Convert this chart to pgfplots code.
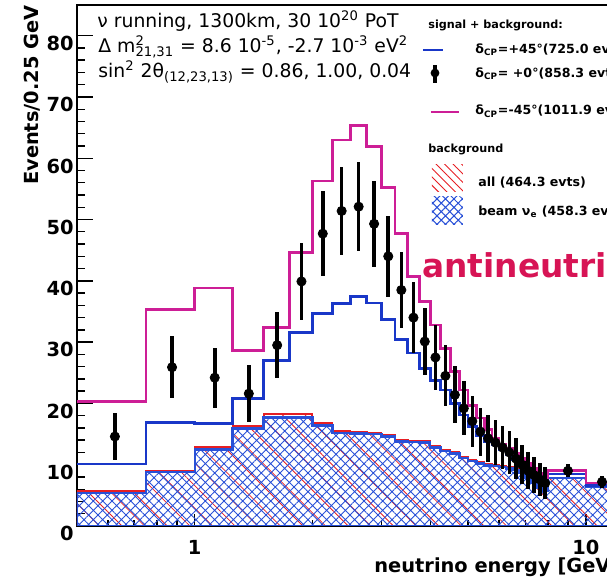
\documentclass[border=0pt]{standalone}
\usepackage{fontspec}
\setmainfont{DejaVu Sans}
\usepackage{pgfplots}
\usepackage{pgfplotstable}
\pgfplotsset{compat=1.18}
\usetikzlibrary{patterns.meta}

\definecolor{sigblue}{RGB}{25,55,200}
\definecolor{sigmag}{RGB}{205,30,150}
\definecolor{bkgred}{RGB}{230,30,35}
\definecolor{hatchblue}{RGB}{40,80,215}
\definecolor{antired}{RGB}{215,20,85}

% bin lower edges (last row = upper edge of last bin)
\pgfplotstableread{
e     plus45 minus45 bkg  beam
0.50  10.1   20.3    5.7  5.4
0.75  16.9   35.3    9.0  8.8
1.00  16.7   38.8    12.9 12.5
1.25  20.8   28.6    16.3 15.9
1.50  27.0   32.4    18.2 17.7
1.75  31.6   44.6    18.2 17.7
2.00  34.7   56.3    16.8 16.4
2.25  36.3   63.0    15.5 15.2
2.50  37.4   65.3    15.4 15.1
2.75  36.4   61.9    15.2 15.0
3.00  33.7   55.2    14.8 14.6
3.25  30.4   47.7    14.0 13.8
3.50  28.2   40.7    13.9 13.7
3.75  25.7   36.6    13.8 13.6
4.00  23.7   32.8    13.0 12.8
4.25  22.2   29.0    12.4 12.2
4.50  20.0   25.2    12.0 11.8
4.75  18.1   22.2    11.3 11.1
5.00  16.2   19.7    10.8 10.6
5.25  14.8   17.6    10.4 10.2
5.50  13.8   15.7    10.1 9.9
5.75  13.2   14.3    10.0 9.8
6.00  12.5   13.4    9.8  9.6
6.25  11.7   12.6    9.6  9.4
6.50  10.8   11.8    9.3  9.1
6.75  9.9    11.0    8.8  8.6
7.00  8.9    10.2    8.0  7.8
7.25  8.0    9.4     7.2  7.0
7.50  7.2    8.6     6.5  6.3
7.75  6.6    7.8     6.0  5.8
8.00  8.5    9.1     7.9  7.8
10.0  6.6    7.0     6.5  6.4
12.0  6.6    7.0     6.5  6.4
}\hist

\pgfplotstableread{
x     y     ey
0.625 14.6  3.82
0.875 25.9  5.09
1.125 24.2  4.92
1.375 21.6  4.65
1.625 29.5  5.43
1.875 39.9  6.32
2.125 47.7  6.91
2.375 51.4  7.17
2.625 52.1  7.22
2.875 49.3  7.02
3.125 44.0  6.63
3.375 38.5  6.20
3.625 34.0  5.83
3.875 30.1  5.49
4.125 27.5  5.24
4.375 24.5  4.95
4.625 21.4  4.63
4.875 19.2  4.38
5.125 17.1  4.14
5.375 15.4  3.92
5.625 14.3  3.78
5.875 13.6  3.69
6.125 12.8  3.58
6.375 12.0  3.46
6.625 11.0  3.32
6.875 10.0  3.16
7.125 9.0   3.00
7.375 8.3   2.88
7.625 7.6   2.76
7.875 7.0   2.65
9.0   9.0   1.06
11.0  7.2   0.95
}\evts

\newcommand\lab{\fontsize{9.7}{11.6}\selectfont\bfseries}
\newcommand\leg{\fontsize{6.3}{7.5}\selectfont\bfseries}
\newcommand\head{\fontsize{5.6}{6.7}\selectfont\bfseries}
\newcommand\info{\fontsize{9.4}{11.3}\selectfont}

\begin{document}
\begin{tikzpicture}
\useasboundingbox (-38.5pt,-29.5pt) rectangle (265pt,263pt);
\begin{scope}
\clip (-38.5pt,-29.5pt) rectangle (265pt,263pt);
\begin{axis}[
  scale only axis, width=283pt, height=260.5pt,
  xmode=log, xmin=0.5, xmax=14, ymin=0, ymax=85,
  axis line style={line width=1pt},
  tick pos=left, tick align=inside,
  xtick={1,10}, xticklabels={1,10},
  minor xtick={0.6,0.7,0.8,0.9,2,3,4,5,6,7,8,9,20},
  ytick={0,10,...,80}, minor y tick num=4,
  major tick length=8pt, minor tick length=4pt,
  xtick style={/pgfplots/major tick length=6pt,/pgfplots/minor tick length=3pt},
  tick style={black, line width=0.7pt},
  /pgf/number format/assume math mode=true,
  tick label style={font=\lab},
  yticklabel style={anchor=north east, inner sep=0pt, xshift=-1.5pt},
  xticklabel style={anchor=north, inner sep=0pt, yshift=-7pt},
]
\addplot[const plot, draw=bkgred, line width=1pt,
  pattern={Lines[angle=-45,distance=8pt,line width=0.4pt]}, pattern color=bkgred]
  table[x=e,y=bkg] {\hist} \closedcycle;
\addplot[const plot, draw=hatchblue, line width=1.2pt,
  pattern={Hatch[angle=45,distance=3.3pt,line width=0.45pt]}, pattern color=hatchblue]
  table[x=e,y=beam] {\hist} \closedcycle;
\addplot[const plot, draw=sigblue, line width=1.3pt] table[x=e,y=plus45] {\hist};
\addplot[const plot, draw=sigmag, line width=1.3pt] table[x=e,y=minus45] {\hist};
\addplot[only marks, mark=*, mark size=2.3pt, black,
  error bars/.cd, y dir=both, y explicit, error mark=none,
  error bar style={line width=1.8pt, black}]
  table[x=x,y=y,y error=ey] {\evts};
\end{axis}

% labels
\node[anchor=base west, inner sep=0pt, font=\lab] at (148.5pt,-23.5pt) {neutrino energy [GeV]};
\node[rotate=90, anchor=south east, inner sep=0pt, font=\lab] at (-18pt,260.5pt) {Events/0.25 GeV};

% info text
\node[anchor=base west, inner sep=0pt, font=\info] at (10pt,249pt)
  {ν running, 1300km, 30 10\textsuperscript{20} PoT};
\node[anchor=base west, inner sep=0pt, font=\info] at (10.5pt,236.5pt)
  {Δ m\rlap{\textsuperscript{2}}\textsubscript{21,31} = 8.6 10\textsuperscript{-5}, -2.7 10\textsuperscript{-3} eV\textsuperscript{2}};
\node[anchor=base west, inner sep=0pt, font=\info] at (10.5pt,224pt)
  {sin\textsuperscript{2} 2θ\textsubscript{(12,23,13)} = 0.86, 1.00, 0.04};

% legend
\node[anchor=base west, inner sep=0pt, font=\head] at (175.5pt,248.8pt) {signal + background:};
\draw[sigblue, line width=1.2pt] (173pt,238pt) -- (183pt,238pt);
\node[anchor=base west, inner sep=0pt, font=\leg] at (199pt,236.3pt) {δ\textsubscript{CP}=+45°(725.0 evts)};
\draw[black, line width=1.8pt] (179pt,221.5pt) -- (179pt,230.5pt);
\fill[black] (179pt,226.5pt) circle (2.2pt);
\node[anchor=base west, inner sep=0pt, font=\leg] at (199pt,224.3pt) {δ\textsubscript{CP}= +0°(858.3 evts)};
\draw[sigmag, line width=1.2pt] (177pt,207pt) -- (191pt,207pt);
\node[anchor=base west, inner sep=0pt, font=\leg] at (199pt,205.5pt) {δ\textsubscript{CP}=-45°(1011.9 evts)};
\node[anchor=base west, inner sep=0pt, font=\head] at (175.5pt,186.7pt) {background};
\fill[pattern={Lines[angle=-45,distance=3pt,line width=0.5pt]}, pattern color=bkgred]
  (177.5pt,167.2pt) rectangle (193pt,180.5pt);
\node[anchor=base west, inner sep=0pt, font=\leg] at (200.5pt,169.7pt) {all (464.3 evts)};
\fill[pattern={Hatch[angle=45,distance=3pt,line width=0.5pt]}, pattern color=hatchblue]
  (177.5pt,150.5pt) rectangle (193pt,164.7pt);
\node[anchor=base west, inner sep=0pt, font=\leg] at (200.5pt,155pt) {beam ν\textsubscript{e} (458.3 evts)};

\node[anchor=base west, inner sep=0pt, text=antired, font=\fontsize{16.4}{19}\selectfont\bfseries]
  at (172.5pt,124pt) {antineutrino};
\end{scope}
\end{tikzpicture}
\end{document}
